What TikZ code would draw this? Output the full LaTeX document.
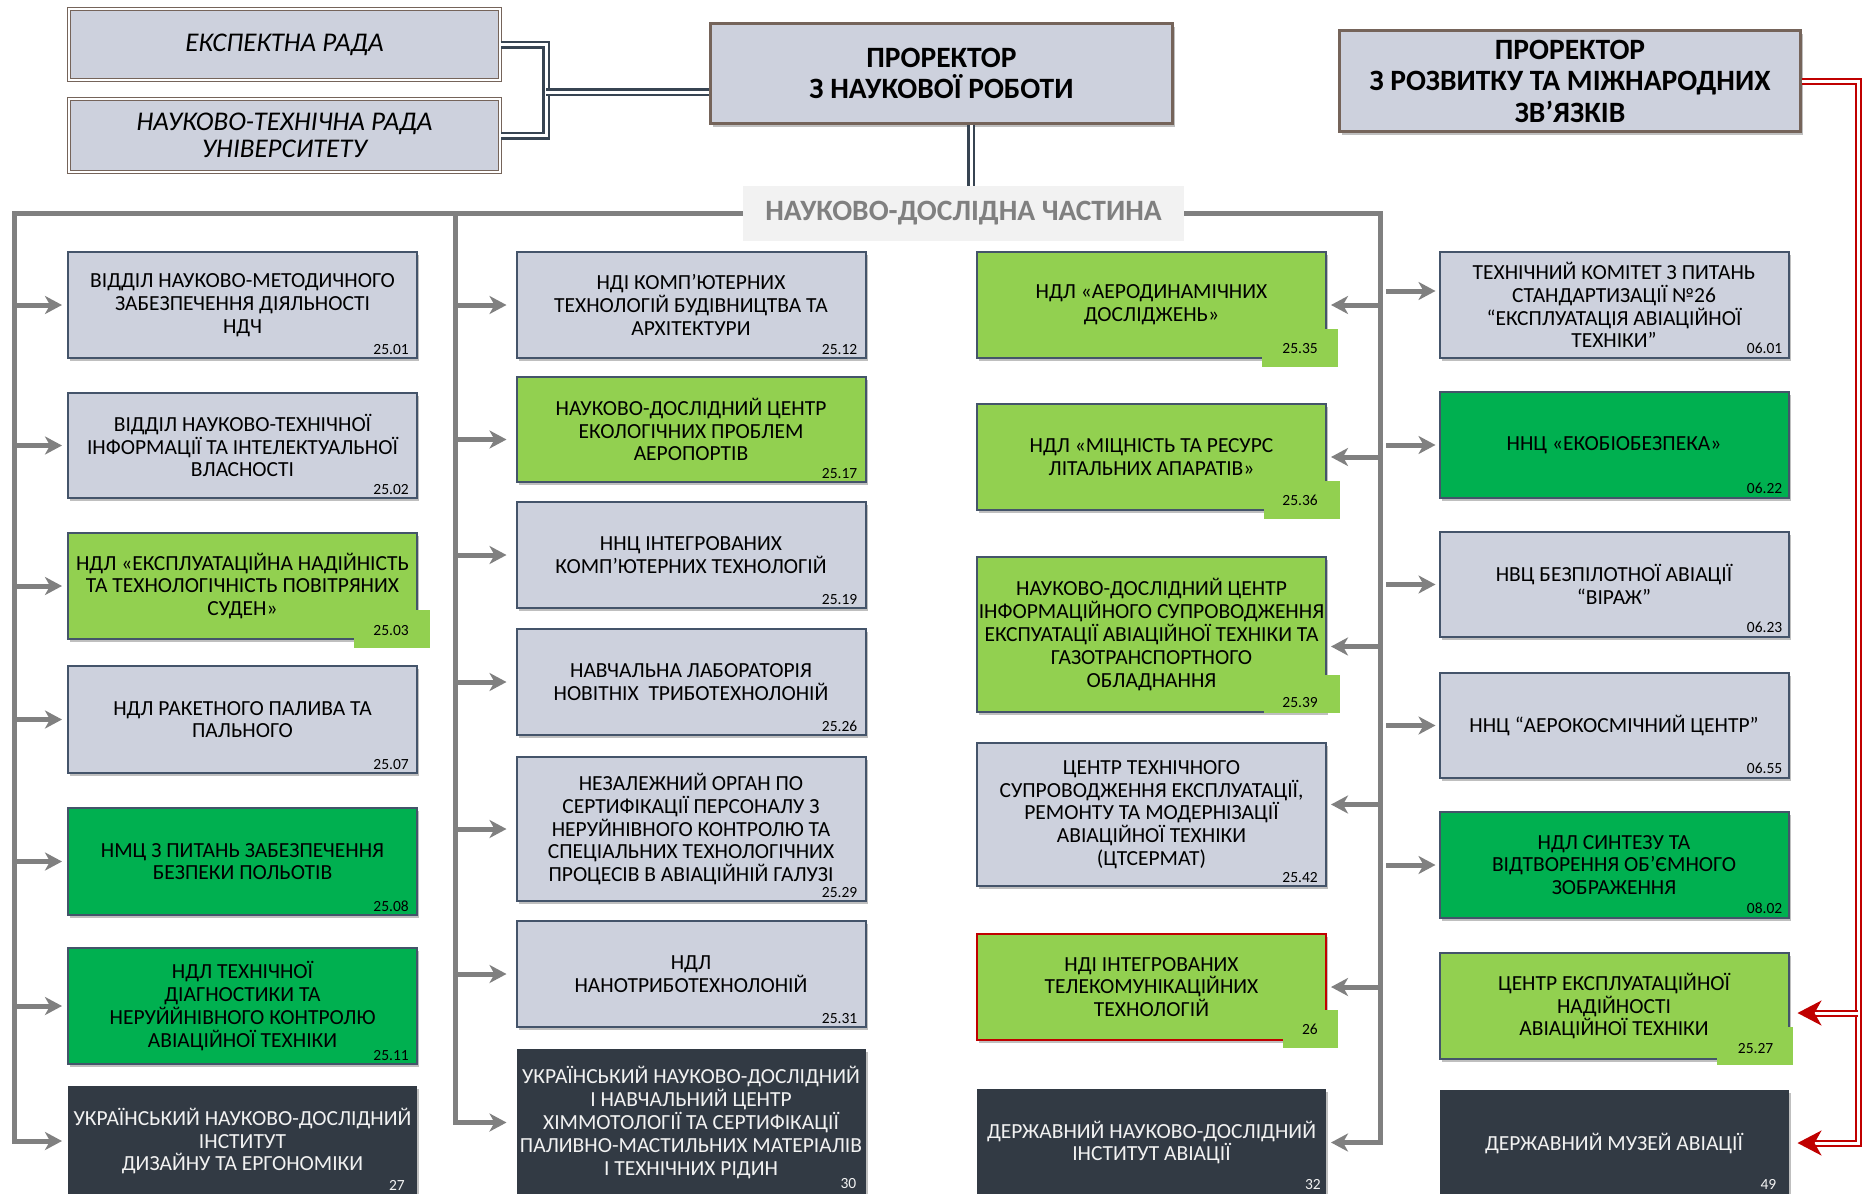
\documentclass[tikz,border=0pt]{standalone}
\usepackage{fontspec}
\setmainfont{Carlito}
\usetikzlibrary{arrows.meta,shadows,positioning,calc}
\definecolor{boxc}{RGB}{205,209,221}
\definecolor{edge}{RGB}{68,84,106}
\definecolor{lgrn}{RGB}{146,208,80}
\definecolor{dgrn}{RGB}{0,176,80}
\definecolor{darkc}{RGB}{50,58,68}
\definecolor{busc}{RGB}{128,128,128}
\definecolor{brn}{RGB}{117,100,90}
\definecolor{slate}{RGB}{55,68,82}
\definecolor{redc}{RGB}{192,0,0}
\definecolor{lab}{RGB}{242,242,242}

\begin{document}
\begin{tikzpicture}[x=1pt, y=-1pt,
      u/.style={draw=edge, line width=2pt, fill=boxc, minimum width=349pt,
        align=center, inner sep=1pt, font=\fontsize{21.5}{22.8}\selectfont,
        drop shadow={shadow xshift=2pt, shadow yshift=-3pt, opacity=.25, fill=black}},
      lg/.style={u, fill=lgrn},
      dg/.style={u, fill=dgrn},
      dk/.style={u, draw=none, fill=darkc, text=lab},
      num/.style={anchor=base east, inner sep=0pt, font=\fontsize{15.5}{16}\selectfont},
      ptag/.style={fill=lgrn, anchor=south east, minimum height=38pt, inner sep=0pt},
      board/.style={draw=brn, fill=boxc, line width=1.2pt, double=white, double distance=2.5pt,
        align=center, font=\fontsize{27}{27.5}\selectfont\itshape},
      chief/.style={draw=brn, fill=boxc, line width=3pt, align=center,
        font=\fontsize{29.5}{31.5}\selectfont\bfseries,
        drop shadow={shadow xshift=2pt, shadow yshift=-3pt, opacity=.25, fill=black}},
      lbl/.style={fill=lab, text=busc, font=\fontsize{29.5}{30}\selectfont\bfseries},
      dbl/.style={draw=slate, line width=2.5pt, double=white, double distance=3pt},
      bus/.style={draw=busc, line width=5pt},
      arr/.style={bus, -{Stealth[length=17pt, width=18pt, inset=5pt]}},
      rarr/.style={draw=redc, line width=2pt, double=white, double distance=3pt,
        -{Stealth[length=24pt, width=25pt, inset=7pt]}}
    ]
      \useasboundingbox (0,0) rectangle (1864,1194);
      \fill[white] (0,0) rectangle (1864,1194);

      % guide lines
      \coordinate (lb) at (14,0);
      \coordinate (mb) at (455,0);
      \coordinate (rb) at (1380,0);
      \coordinate (rr) at (1386,0);
      \coordinate (rc) at (1858,0);
      \coordinate (vc) at (971,0);
      \coordinate (jn) at (546,92);

      % top level
      \node[board, minimum width=431pt, minimum height=71pt] (exp) at (284.5,44.5) {ЕКСПЕКТНА РАДА};
      \node[board, minimum width=431pt, minimum height=73pt] (ntr) at (284.5,135.5) {НАУКОВО-ТЕХНІЧНА РАДА\\УНІВЕРСИТЕТУ};
      \node[chief, minimum width=462pt, minimum height=100pt] (pr) at (941.5,73.5) {ПРОРЕКТОР\\З НАУКОВОЇ РОБОТИ};
      \node[chief, minimum width=461pt, minimum height=101pt] (prm) at (1570,81) {ПРОРЕКТОР\\З РОЗВИТКУ ТА МІЖНАРОДНИХ\\ЗВ’ЯЗКІВ};
      \node[lbl, minimum width=441pt, minimum height=55pt] (ndch) at (963.5,213.5) {НАУКОВО-ДОСЛІДНА ЧАСТИНА};

      % column 1
      \node[u, minimum height=106pt] (d2501) at (242.5,305) {ВІДДІЛ НАУКОВО-МЕТОДИЧНОГО\\ЗАБЕЗПЕЧЕННЯ ДІЯЛЬНОСТІ\\НДЧ};
      \node[u, minimum height=105pt] (d2502) at (242.5,445.5) {ВІДДІЛ НАУКОВО-ТЕХНІЧНОЇ\\ІНФОРМАЦІЇ ТА ІНТЕЛЕКТУАЛЬНОЇ\\ВЛАСНОСТІ};
      \node[lg, minimum height=106pt] (d2503) at (242.5,586) {НДЛ «ЕКСПЛУАТАЦІЙНА НАДІЙНІСТЬ\\ТА ТЕХНОЛОГІЧНІСТЬ ПОВІТРЯНИХ\\СУДЕН»};
      \node[u, minimum height=107pt] (d2507) at (242.5,719.5) {НДЛ РАКЕТНОГО ПАЛИВА ТА\\ПАЛЬНОГО};
      \node[dg, minimum height=107pt] (d2508) at (242.5,861.5) {НМЦ З ПИТАНЬ ЗАБЕЗПЕЧЕННЯ\\БЕЗПЕКИ ПОЛЬОТІВ};
      \node[dg, minimum height=116pt] (d2511) at (242.5,1006) {НДЛ ТЕХНІЧНОЇ\\ДІАГНОСТИКИ ТА\\НЕРУЙЙНІВНОГО КОНТРОЛЮ\\АВІАЦІЙНОЇ ТЕХНІКИ};
      \node[dk, minimum height=110pt] (d27) at (242.5,1141) {УКРАЇНСЬКИЙ НАУКОВО-ДОСЛІДНИЙ\\ІНСТИТУТ\\ДИЗАЙНУ ТА ЕРГОНОМІКИ};

      % column 2
      \node[u, minimum height=106pt] (d2512) at (691,305) {НДІ КОМП’ЮТЕРНИХ\\ТЕХНОЛОГІЙ БУДІВНИЦТВА ТА\\АРХІТЕКТУРИ};
      \node[lg, minimum height=105pt] (d2517) at (691,429.5) {НАУКОВО-ДОСЛІДНИЙ ЦЕНТР\\ЕКОЛОГІЧНИХ ПРОБЛЕМ\\АЕРОПОРТІВ};
      \node[u, minimum height=106pt] (d2519) at (691,555) {ННЦ ІНТЕГРОВАНИХ\\КОМП’ЮТЕРНИХ ТЕХНОЛОГІЙ};
      \node[u, minimum height=106pt] (d2526) at (691,682) {НАВЧАЛЬНА ЛАБОРАТОРІЯ\\НОВІТНІХ\ \ ТРИБОТЕХНОЛОНІЙ};
      \node[u, minimum height=144pt] (d2529) at (691,829) {НЕЗАЛЕЖНИЙ ОРГАН ПО\\СЕРТИФІКАЦІЇ ПЕРСОНАЛУ З\\НЕРУЙНІВНОГО КОНТРОЛЮ ТА\\СПЕЦІАЛЬНИХ ТЕХНОЛОГІЧНИХ\\ПРОЦЕСІВ В АВІАЦІЙНІЙ ГАЛУЗІ};
      \node[u, minimum height=106pt] (d2531) at (691,974) {НДЛ\\НАНОТРИБОТЕХНОЛОНІЙ};
      \node[dk, minimum height=147pt] (d30) at (691,1122.5) {УКРАЇНСЬКИЙ НАУКОВО-ДОСЛІДНИЙ\\І НАВЧАЛЬНИЙ ЦЕНТР\\ХІММОТОЛОГІЇ ТА СЕРТИФІКАЦІЇ\\ПАЛИВНО-МАСТИЛЬНИХ МАТЕРІАЛІВ\\І ТЕХНІЧНИХ РІДИН};

      % column 3
      \node[lg, minimum height=106pt] (d2535) at (1151.5,305) {НДЛ «АЕРОДИНАМІЧНИХ\\ДОСЛІДЖЕНЬ»};
      \node[lg, minimum height=106pt] (d2536) at (1151.5,457) {НДЛ «МІЦНІСТЬ ТА РЕСУРС\\ЛІТАЛЬНИХ АПАРАТІВ»};
      \node[lg, minimum height=155pt] (d2539) at (1151.5,634.5) {НАУКОВО-ДОСЛІДНИЙ ЦЕНТР\\ІНФОРМАЦІЙНОГО СУПРОВОДЖЕННЯ\\ЕКСПУАТАЦІЇ АВІАЦІЙНОЇ ТЕХНІКИ ТА\\ГАЗОТРАНСПОРТНОГО\\ОБЛАДНАННЯ};
      \node[u, minimum height=143pt] (d2542) at (1151.5,814.5) {ЦЕНТР ТЕХНІЧНОГО\\СУПРОВОДЖЕННЯ ЕКСПЛУАТАЦІЇ,\\РЕМОНТУ ТА МОДЕРНІЗАЦІЇ\\АВІАЦІЙНОЇ ТЕХНІКИ\\(ЦТСЕРМАТ)};
      \node[lg, draw=redc, minimum height=106pt] (d26) at (1151.5,987) {НДІ ІНТЕГРОВАНИХ\\ТЕЛЕКОМУНІКАЦІЙНИХ\\ТЕХНОЛОГІЙ};
      \node[dk, minimum height=107pt] (d32) at (1151.5,1142.5) {ДЕРЖАВНИЙ НАУКОВО-ДОСЛІДНИЙ\\ІНСТИТУТ АВІАЦІЇ};

      % column 4
      \node[u, minimum height=106pt] (d0601) at (1614,305) {ТЕХНІЧНИЙ КОМІТЕТ З ПИТАНЬ\\СТАНДАРТИЗАЦІЇ №26\\“ЕКСПЛУАТАЦІЯ АВІАЦІЙНОЇ\\ТЕХНІКИ”};
      \node[dg, minimum height=106pt] (d0622) at (1614,445) {ННЦ «ЕКОБІОБЕЗПЕКА»};
      \node[u, minimum height=105pt] (d0623) at (1614,584.5) {НВЦ БЕЗПІЛОТНОЇ АВІАЦІЇ\\“ВІРАЖ”};
      \node[u, minimum height=105pt] (d0655) at (1614,725.5) {ННЦ “АЕРОКОСМІЧНИЙ ЦЕНТР”};
      \node[dg, minimum height=106pt] (d0802) at (1614,865) {НДЛ СИНТЕЗУ ТА\\ВІДТВОРЕННЯ ОБ’ЄМНОГО\\ЗОБРАЖЕННЯ};
      \node[lg, minimum height=106pt] (d2527) at (1614,1006) {ЦЕНТР ЕКСПЛУАТАЦІЙНОЇ\\НАДІЙНОСТІ\\АВІАЦІЙНОЇ ТЕХНІКИ};
      \node[dk, minimum height=106pt] (d49) at (1614,1143) {ДЕРЖАВНИЙ МУЗЕЙ АВІАЦІЇ};

      % green patches under the codes
      \node[ptag, minimum width=76pt] (p2503) at ([xshift=12pt,yshift=-8pt]d2503.south east) {};
      \node[ptag, minimum width=76pt] (p2535) at ([xshift=11pt,yshift=-8pt]d2535.south east) {};
      \node[ptag, minimum width=76pt] (p2536) at ([xshift=13pt,yshift=-8pt]d2536.south east) {};
      \node[ptag, minimum width=76pt] (p2539) at ([xshift=13pt]d2539.south east) {};
      \node[ptag, minimum width=55pt] (p26) at ([xshift=11pt,yshift=-7pt]d26.south east) {};
      \node[ptag, minimum width=76pt] (p2527) at ([xshift=4pt,yshift=-5pt]d2527.south east) {};

      % codes
      \node[num] (n2501) at ([xshift=-9pt,yshift=5pt]d2501.south east) {25.01};
      \node[num] (n2502) at ([xshift=-9pt,yshift=5pt]d2502.south east) {25.02};
      \node[num] (n2503) at ([xshift=-9pt,yshift=5pt]d2503.south east) {25.03};
      \node[num] (n2507) at ([xshift=-9pt,yshift=5pt]d2507.south east) {25.07};
      \node[num] (n2508) at ([xshift=-9pt,yshift=5pt]d2508.south east) {25.08};
      \node[num] (n2511) at ([xshift=-9pt,yshift=5pt]d2511.south east) {25.11};
      \node[num, text=lab] (n27) at ([xshift=-13pt,yshift=7pt]d27.south east) {27};
      \node[num] (n2512) at ([xshift=-9pt,yshift=5pt]d2512.south east) {25.12};
      \node[num] (n2517) at ([xshift=-9pt,yshift=5pt]d2517.south east) {25.17};
      \node[num] (n2519) at ([xshift=-9pt,yshift=5pt]d2519.south east) {25.19};
      \node[num] (n2526) at ([xshift=-9pt,yshift=5pt]d2526.south east) {25.26};
      \node[num] (n2529) at ([xshift=-9pt,yshift=5pt]d2529.south east) {25.29};
      \node[num] (n2531) at ([xshift=-9pt,yshift=5pt]d2531.south east) {25.31};
      \node[num, text=lab] (n30) at ([xshift=-10pt,yshift=9pt]d30.south east) {30};
      \node[num] (n2535) at ([xshift=-9pt,yshift=6pt]d2535.south east) {25.35};
      \node[num] (n2536) at ([xshift=-9pt,yshift=6pt]d2536.south east) {25.36};
      \node[num] (n2539) at ([xshift=-9pt,yshift=6pt]d2539.south east) {25.39};
      \node[num] (n2542) at ([xshift=-9pt,yshift=5pt]d2542.south east) {25.42};
      \node[num] (n26) at ([xshift=-9pt,yshift=7pt]d26.south east) {26};
      \node[num, text=lab] (n32) at ([xshift=-6pt,yshift=8pt]d32.south east) {32};
      \node[num] (n0601) at ([xshift=-7pt,yshift=6pt]d0601.south east) {06.01};
      \node[num] (n0622) at ([xshift=-7pt,yshift=6pt]d0622.south east) {06.22};
      \node[num] (n0623) at ([xshift=-7pt,yshift=6pt]d0623.south east) {06.23};
      \node[num] (n0655) at ([xshift=-7pt,yshift=6pt]d0655.south east) {06.55};
      \node[num] (n0802) at ([xshift=-7pt,yshift=6pt]d0802.south east) {08.02};
      \node[num] (n2527) at ([xshift=-16pt,yshift=7pt]d2527.south east) {25.27};
      \node[num, text=lab] (n49) at ([xshift=-13pt,yshift=8pt]d49.south east) {49};

      % links of the top level
      \draw[dbl] (exp.east) -| (jn) |- (ntr.east);
      \draw[dbl] (jn) -- (jn -| pr.west);
      \draw[dbl] (pr.south -| vc) -- (ndch.north -| vc);

      % bus lines
      \draw[arr] (ndch.west) -| (lb |- d27.west) -- ([xshift=-5pt]d27.west);
      \draw[arr] (mb |- ndch.west) -- (mb |- d30.west) -- ([xshift=-9pt]d30.west);
      \draw[arr] (ndch.east) -| (rb |- d32.east) -- ([xshift=4pt]d32.east);

      % arrows to column 1
      \draw[arr] (lb |- d2501.west) -- ([xshift=-5pt]d2501.west);
      \draw[arr] (lb |- d2502.west) -- ([xshift=-5pt]d2502.west);
      \draw[arr] (lb |- d2503.west) -- ([xshift=-5pt]d2503.west);
      \draw[arr] (lb |- d2507.west) -- ([xshift=-5pt]d2507.west);
      \draw[arr] (lb |- d2508.west) -- ([xshift=-5pt]d2508.west);
      \draw[arr] (lb |- d2511.west) -- ([xshift=-5pt]d2511.west);

      % arrows to column 2
      \coordinate (a2517) at ([yshift=-10pt]d2517.west);
      \draw[arr] (mb |- d2512.west) -- ([xshift=-9pt]d2512.west);
      \draw[arr] (mb |- a2517) -- ([xshift=-9pt]a2517);
      \draw[arr] (mb |- d2519.west) -- ([xshift=-9pt]d2519.west);
      \draw[arr] (mb |- d2526.west) -- ([xshift=-9pt]d2526.west);
      \draw[arr] (mb |- d2529.west) -- ([xshift=-9pt]d2529.west);
      \draw[arr] (mb |- d2531.west) -- ([xshift=-9pt]d2531.west);

      % arrows to column 3
      \coordinate (a2539) at ([yshift=-12pt]d2539.east);
      \coordinate (a2542) at ([yshift=10pt]d2542.east);
      \draw[arr] (rb |- d2535.east) -- ([xshift=4pt]d2535.east);
      \draw[arr] (rb |- d2536.east) -- ([xshift=4pt]d2536.east);
      \draw[arr] (rb |- a2539) -- ([xshift=4pt]a2539);
      \draw[arr] (rb |- a2542) -- ([xshift=4pt]a2542);
      \draw[arr] (rb |- d26.east) -- ([xshift=4pt]d26.east);

      % arrows to column 4
      \coordinate (a0601) at ([yshift=14pt]d0601.west);
      \draw[arr] (rr |- a0601) -- ([xshift=-3pt]a0601);
      \draw[arr] (rr |- d0622.west) -- ([xshift=-3pt]d0622.west);
      \draw[arr] (rr |- d0623.west) -- ([xshift=-3pt]d0623.west);
      \draw[arr] (rr |- d0655.west) -- ([xshift=-3pt]d0655.west);
      \draw[arr] (rr |- d0802.west) -- ([xshift=-3pt]d0802.west);

      % second vice-rector
      \coordinate (a2527) at ([yshift=-7pt]d2527.east);
      \draw[rarr] (prm.east) -| (rc |- d49.east) -- ([xshift=8pt]d49.east);
      \draw[rarr] (rc |- a2527) -- ([xshift=8pt]a2527);
    \end{tikzpicture}
\end{document}
